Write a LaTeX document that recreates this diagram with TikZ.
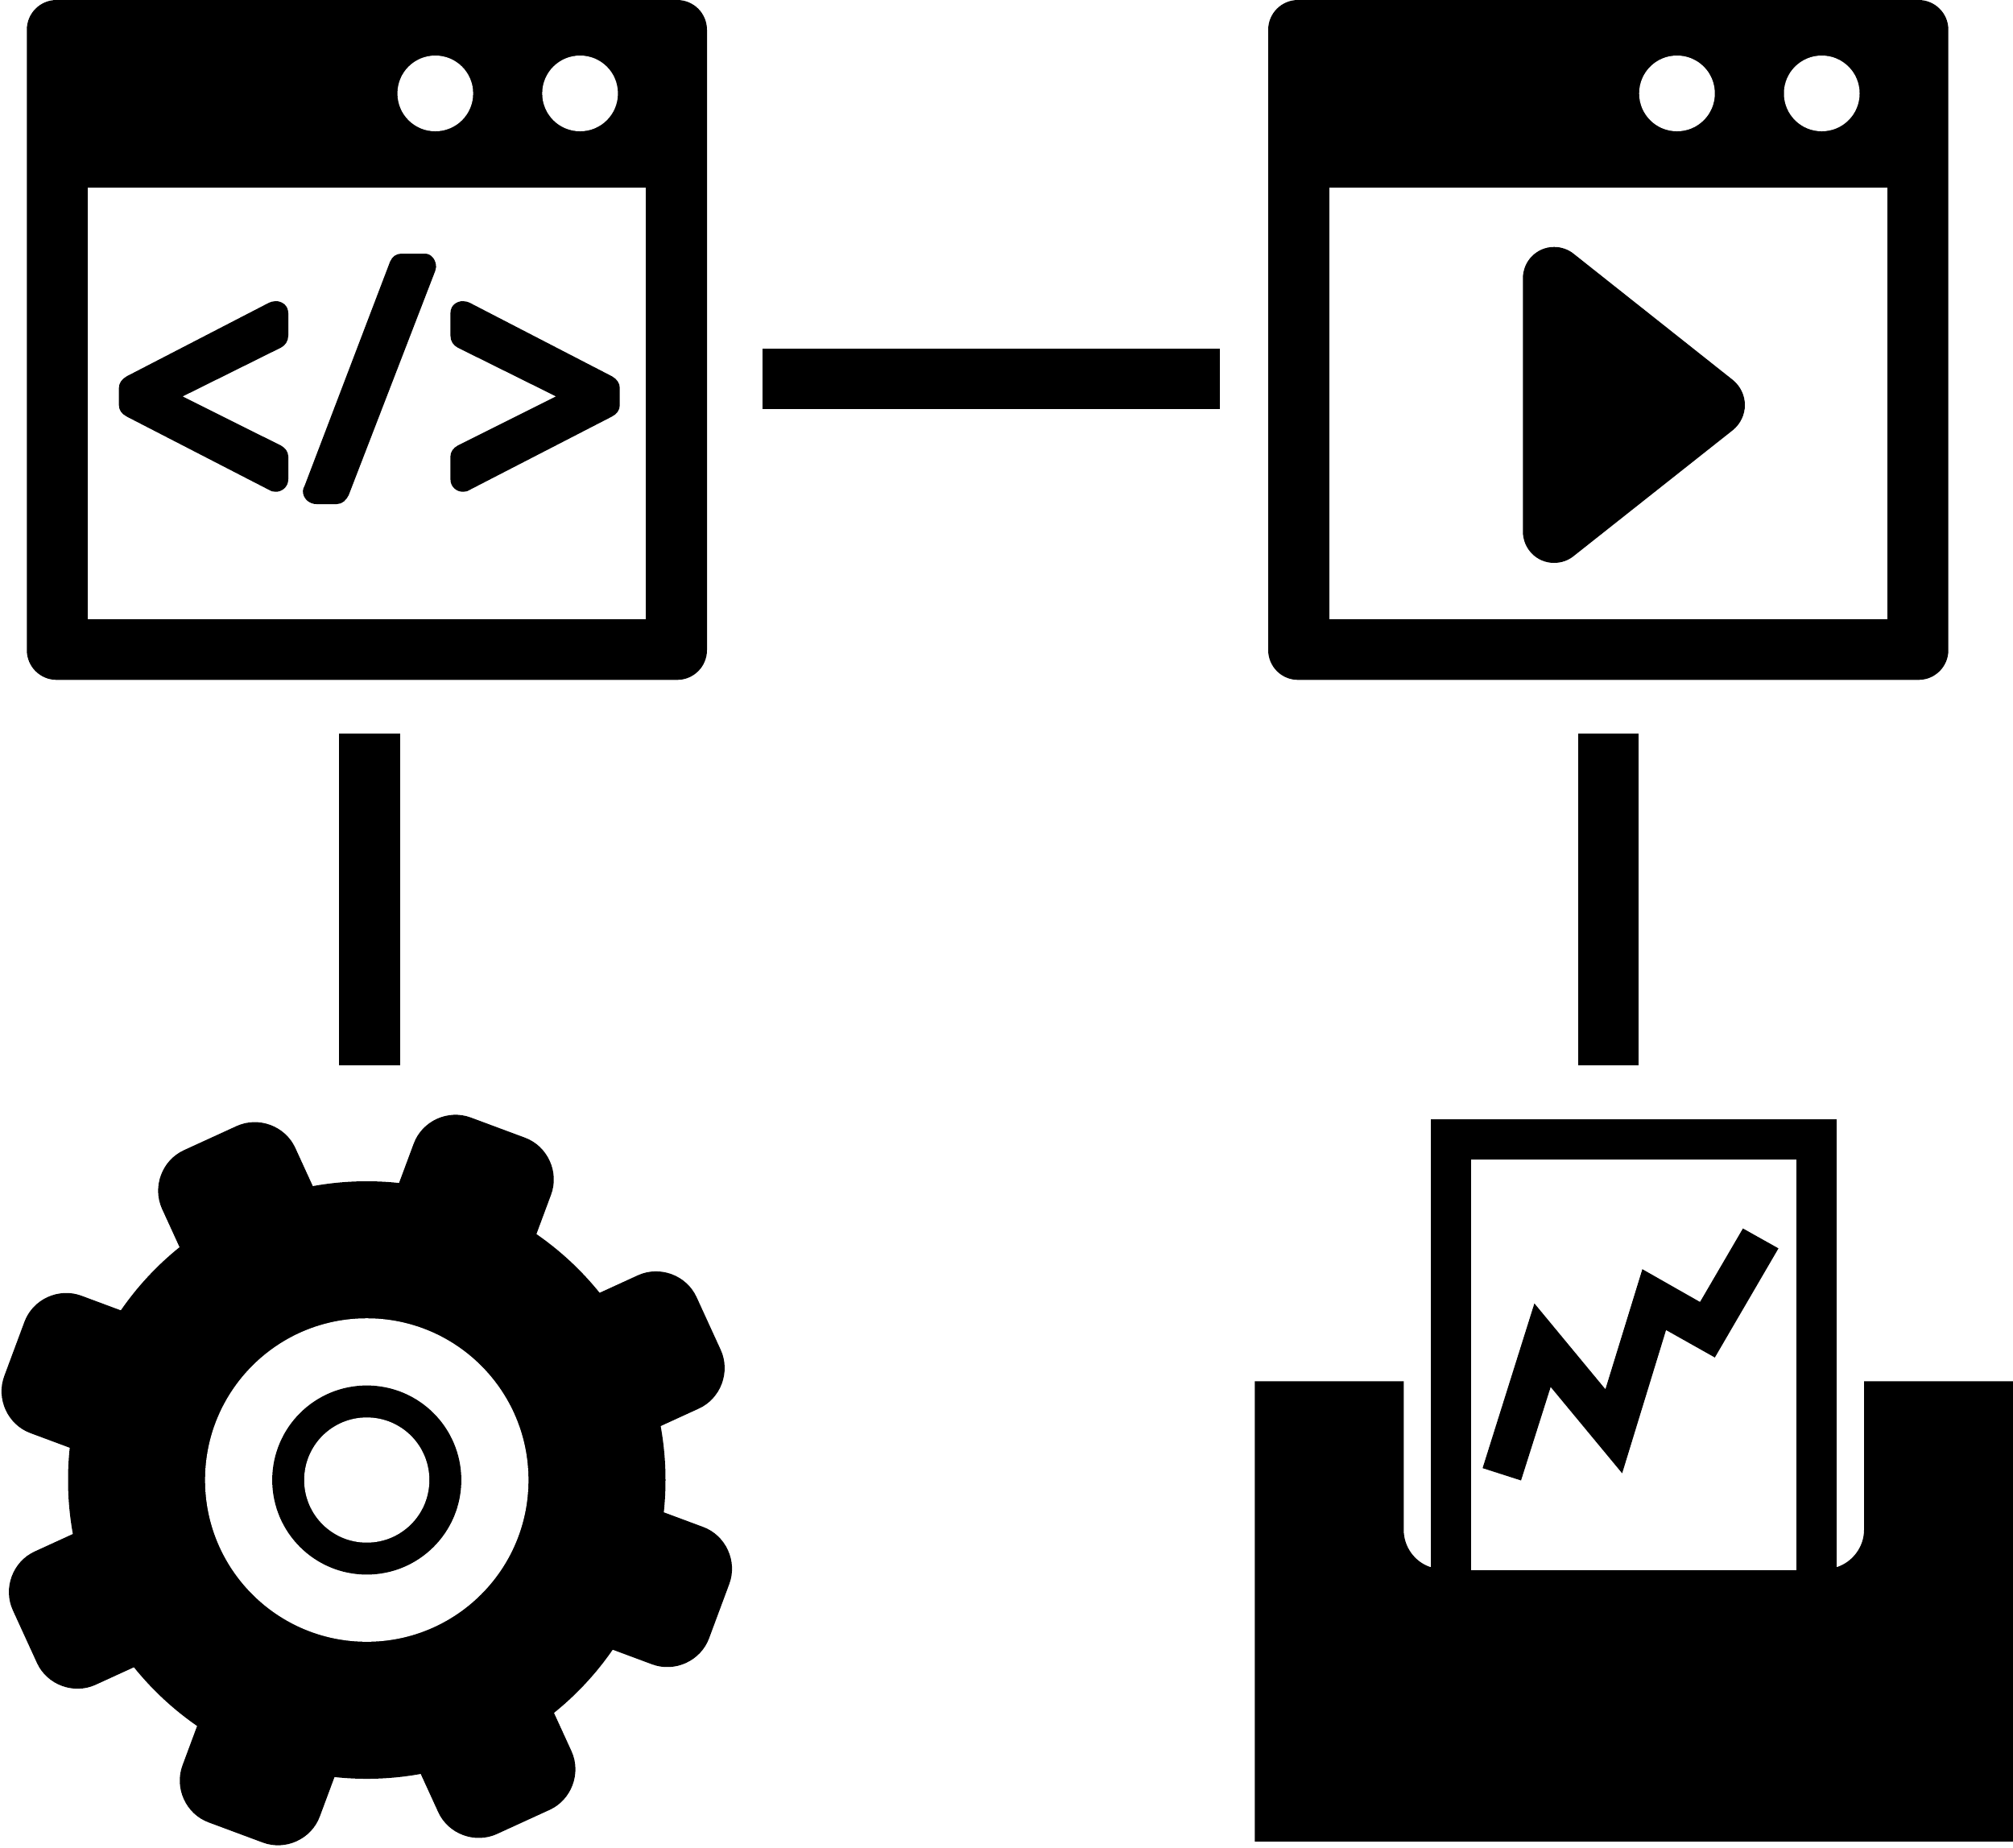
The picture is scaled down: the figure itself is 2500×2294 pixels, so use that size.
\documentclass[tikz,border=0pt]{standalone}
\tikzset{
  ink/.style={fill=black,draw=none},
  paperwhite/.style={fill=white,draw=none},
  winframe/.style={ink,rounded corners=11.1pt},
  gearcentre/.style={shift={(455.5,1838)}}
}
\newcommand{\browser}[2]{%
  \fill[winframe] (#1,0) rectangle ++(844.7,844.3);
  \fill[paperwhite] (#1+75.7,233) rectangle ++(693,536);
  \fill[paperwhite] (#2,116) circle[radius=47];
  \fill[paperwhite] (#2+179.8,116) circle[radius=47];
}
\begin{document}
\begin{tikzpicture}[x=0.3pt,y=-0.3pt]
\useasboundingbox (0,0) rectangle (2500,2294);
\fill[white] (0,0) rectangle (2500,2294);

% browser windows
\browser{33.3}{540.6}
\browser{1575}{2082.7}

% code glyph
\fill[ink] (358,389) .. controls (358,379) and (350,374) .. (342.5,374)
  .. controls (339,374) and (336,375) .. (334,376) -- (157.4,467.3)
  .. controls (151,471) and (147.7,476) .. (147.7,481.7) -- (147.7,503.3)
  .. controls (147.7,509) and (151,514) .. (157.4,517.3) -- (334,608.3)
  .. controls (336,610) and (339,610.7) .. (342.5,610.7)
  .. controls (350,610.7) and (358,605) .. (358,595) -- (358,566.7)
  .. controls (358,561) and (354,556) .. (348.9,553.3) -- (226.8,492.3) -- (348.9,431.7)
  .. controls (354,429) and (358,424) .. (358,416.7) -- cycle;
\fill[ink] (559.4,389) .. controls (559.4,379) and (567.4,374) .. (574.9,374)
  .. controls (578.4,374) and (581.4,375) .. (583.4,376) -- (760,467.3)
  .. controls (766.4,471) and (769.7,476) .. (769.7,481.7) -- (769.7,503.3)
  .. controls (769.7,509) and (766.4,514) .. (760,517.3) -- (583.4,608.3)
  .. controls (581.4,610) and (578.4,610.7) .. (574.9,610.7)
  .. controls (567.4,610.7) and (559.4,605) .. (559.4,595) -- (559.4,566.7)
  .. controls (559.4,561) and (563.4,556) .. (568.5,553.3) -- (690.6,492.3) -- (568.5,431.7)
  .. controls (563.4,429) and (559.4,424) .. (559.4,416.7) -- cycle;
\fill[ink] (498.3,315) -- (527.7,315)
  .. controls (536,315) and (541.6,323) .. (541.6,331.7)
  .. controls (541.6,333.5) and (541,335) .. (540.4,336.7) -- (433,615)
  .. controls (430,621) and (425,626) .. (418.3,626) -- (393,626)
  .. controls (384,626) and (376.2,619) .. (376.2,610)
  .. controls (376.2,607.5) and (377,605.5) .. (378.3,603.3) -- (484.4,325)
  .. controls (487,319) and (492,315) .. (498.3,315) -- cycle;

% play glyph
\fill[ink] (1891.3,345.7) .. controls (1891.3,324.2) and (1908.5,306.7) .. (1930,306.7)
  .. controls (1938.9,306.7) and (1947.5,309.6) .. (1954.4,315.2) -- (2152,471.8)
  .. controls (2161.4,479.4) and (2167,491) .. (2167,503)
  .. controls (2167,515) and (2161.4,526.6) .. (2152,534.2) -- (1954.4,690.5)
  .. controls (1947.5,696.1) and (1938.9,699) .. (1930,699)
  .. controls (1908.5,699) and (1891.3,681.5) .. (1891.3,660) -- cycle;

% bars between the icons
\fill[ink] (947,432.7) rectangle (1514.5,508);
\fill[ink] (421.3,911.3) rectangle (497,1323.3);
\fill[ink] (1960,911.3) rectangle (2035,1323.3);

% gear
\fill[ink] (455.5,1838) circle[radius=371];
\foreach \a in {24.6,69.6,114.6,159.6,204.6,249.6,294.6,339.6}{
  \begin{scope}[gearcentre,rotate=\a]
    \fill[ink] (340,-91) -- (412,-91)
      .. controls (442,-91) and (467,-66) .. (467,-36) -- (467,36)
      .. controls (467,66) and (442,91) .. (412,91) -- (340,91) -- cycle;
  \end{scope}
}
\fill[paperwhite] (455.5,1838) circle[radius=200.8];
\fill[ink] (455.5,1838) circle[radius=117.4];
\fill[paperwhite] (455.5,1838) circle[radius=77.7];

% tray and sheet with chart
\fill[ink] (1558.4,1715.3) -- (1743.3,1715.3) -- (1743.3,1900)
  .. controls (1743.3,1921) and (1757,1940) .. (1777,1946.3)
  -- (2280.8,1946.3)
  .. controls (2300.8,1940) and (2315,1921) .. (2315,1900)
  -- (2315,1715.3) -- (2500,1715.3) -- (2500,2287) -- (1558.4,2287) -- cycle;
\fill[ink] (1777,1390) rectangle (2280.8,1960);
\fill[paperwhite] (1827.2,1440) rectangle (2231,1950);
\fill[ink] (1841.3,1823.2) -- (1905.6,1618.7) -- (1993.8,1725.3) -- (2039.7,1576.2)
  -- (2111.3,1616.9) -- (2164.6,1525.6) -- (2208.7,1550.3) -- (2129.7,1685.8)
  -- (2069.1,1651.7) -- (2014.6,1829.6) -- (1925.8,1722.4) -- (1889,1838.5) -- cycle;
\end{tikzpicture}
\end{document}
